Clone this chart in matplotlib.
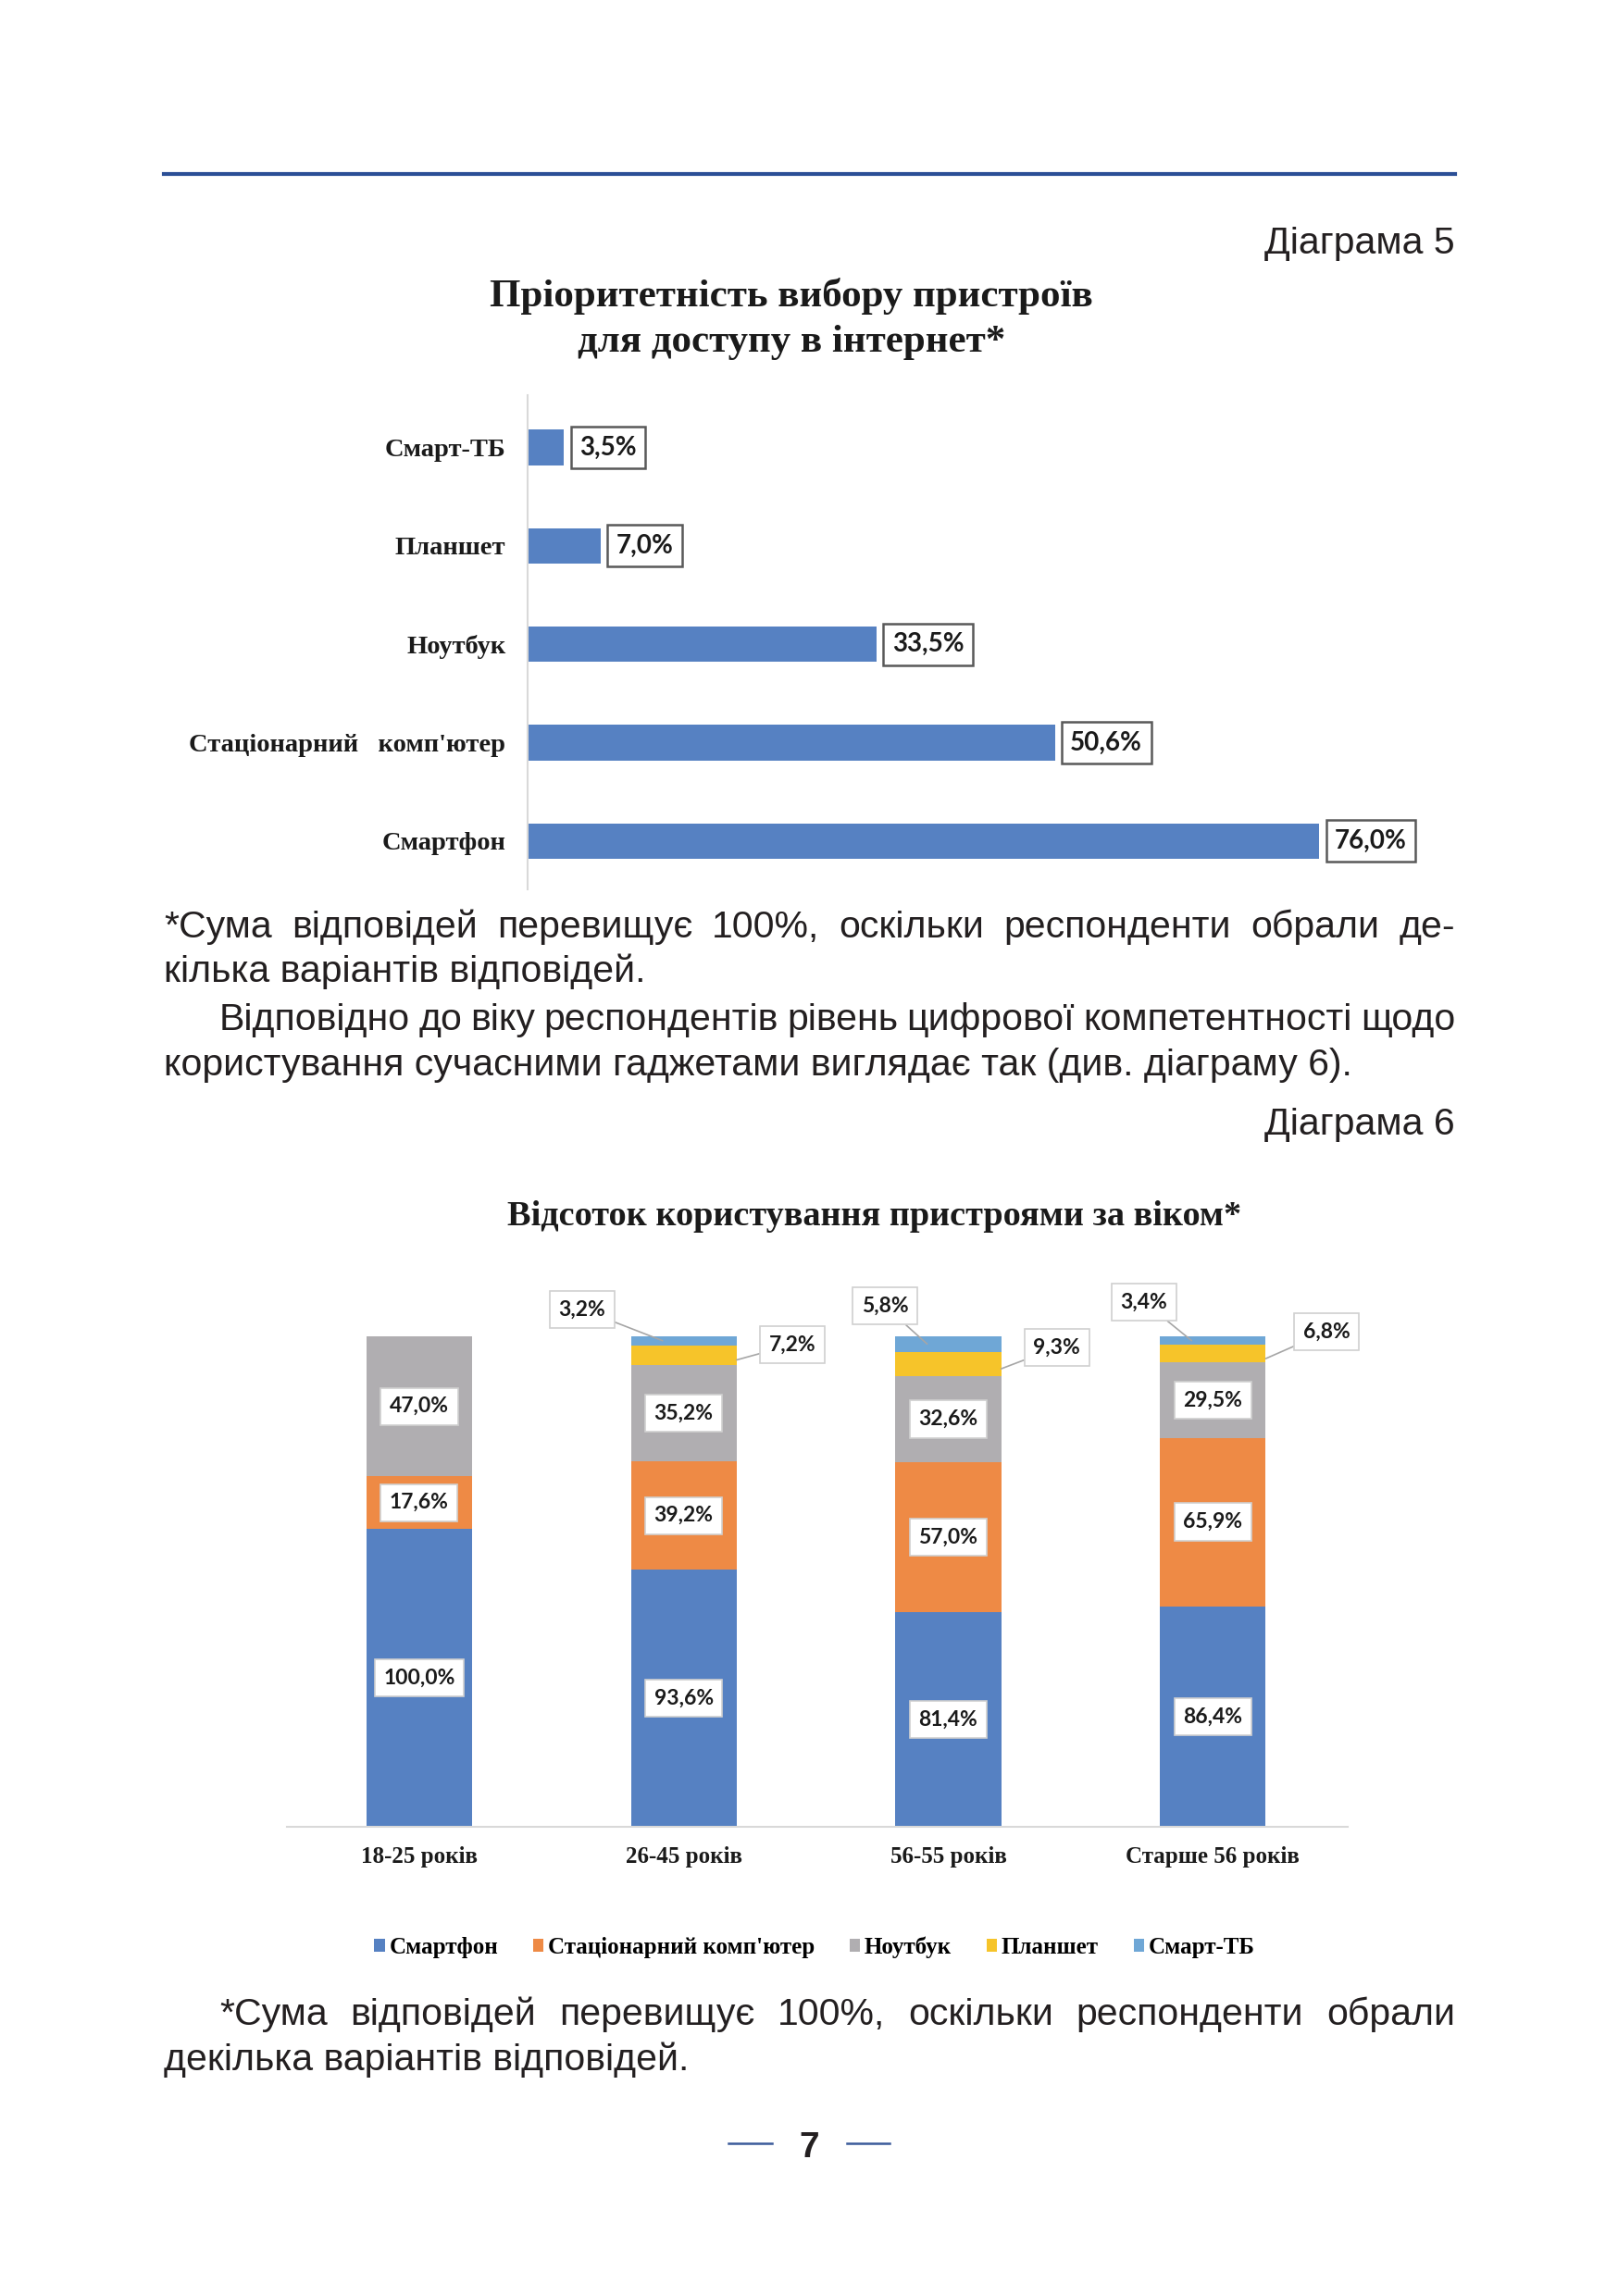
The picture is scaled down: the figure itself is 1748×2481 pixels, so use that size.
import matplotlib
matplotlib.use("Agg")
import matplotlib.pyplot as plt
from matplotlib.lines import Line2D

# diagram 5
devices = ["Смартфон", "Стаціонарний   комп'ютер", "Ноутбук", "Планшет", "Смарт-ТБ"]
device_share = [76.0, 50.6, 33.5, 7.0, 3.5]

# diagram 6
ages = ["18-25 років", "26-45 років", "56-55 років", "Старше 56 років"]
series_names = ["Смартфон", "Стаціонарний комп'ютер", "Ноутбук", "Планшет", "Смарт-ТБ"]
smartphone = [100.0, 93.6, 81.4, 86.4]
desktop = [17.6, 39.2, 57.0, 65.9]
laptop = [47.0, 35.2, 32.6, 29.5]
tablet = [0.0, 7.2, 9.3, 6.8]
smart_tv = [0.0, 3.2, 5.8, 3.4]

W, H = 1749, 2481
BLUE = "#5681c2"
colors = ["#5681c2", "#ee8a45", "#b0aeb1", "#f6c42a", "#6fa7d6"]
SERIF = ["Liberation Serif", "DejaVu Serif"]
SANS = ["Liberation Sans", "DejaVu Sans"]
LBL = ["Lato", "DejaVu Sans"]
TXT = "#231f20"
BODY = 29.5

fig = plt.figure(figsize=(W / 100, H / 100), dpi=100)
renderer = fig.canvas.get_renderer()


def fx(x):
    return x / W


def fy(y):
    return 1 - y / H


def px_axes(left, top, right, bottom):
    return fig.add_axes([fx(left), fy(bottom), (right - left) / W, (bottom - top) / H])


def fmt(v):
    return f"{v:.1f}%".replace(".", ",")


def text_line(s, x0, y, x1=None, **kw):
    kw.setdefault("family", SANS)
    kw.setdefault("fontsize", BODY)
    kw.setdefault("color", TXT)
    if x1 is None:
        fig.text(fx(x0), fy(y), s, ha="left", va="baseline", **kw)
        return
    words = s.split()
    arts = [fig.text(0, fy(y), w, ha="left", va="baseline", **kw) for w in words]
    widths = [a.get_window_extent(renderer).width for a in arts]
    gap = (x1 - x0 - sum(widths)) / (len(words) - 1)
    x = x0
    for a, w in zip(arts, widths):
        a.set_x(fx(x))
        x += w + gap


# page furniture
fig.add_artist(Line2D([fx(177), fx(1572)], [fy(188)] * 2, color="#2b4f96", lw=3))
fig.text(fx(1572), fy(274), "Діаграма 5", ha="right", va="baseline", family=SANS, fontsize=BODY, color=TXT)
fig.text(fx(855), fy(320), "Пріоритетність вибору пристроїв", ha="center", va="center",
         family=SERIF, fontweight="bold", fontsize=31, color="#1a1a1a")
fig.text(fx(855), fy(370), "для доступу в інтернет*", ha="center", va="center",
         family=SERIF, fontweight="bold", fontsize=31, color="#1a1a1a")

# ---- diagram 5: horizontal bars
ax1 = px_axes(570, 427, 1583, 961)
pos = list(range(len(devices)))
ax1.barh(pos, device_share, height=0.36, color=BLUE)
ax1.set_xlim(0, 90)
ax1.set_ylim(-0.49, 4.53)
for s in ["top", "right", "bottom"]:
    ax1.spines[s].set_visible(False)
ax1.spines["left"].set_color("#d9d9d9")
ax1.spines["left"].set_linewidth(1.5)
ax1.set_xticks([])
ax1.set_yticks(pos)
ax1.set_yticklabels(devices, family=SERIF, fontweight="bold", fontsize=20.5, color="#1a1a1a")
ax1.tick_params(axis="y", length=0, pad=17)
for i, v in enumerate(device_share):
    ax1.annotate(fmt(v), xy=(v, i), xytext=(12, 0), textcoords="offset points",
                 ha="left", va="center", family=LBL, fontweight="bold", fontsize=20, color="#1a1a1a",
                 bbox=dict(boxstyle="square,pad=0.34", fc="white", ec="#595959", lw=1.8))

# ---- text between diagrams
text_line("*Сума відповідей перевищує 100%, оскільки респонденти обрали де-", 177, 1013, 1572)
text_line("кілька варіантів відповідей.", 177, 1061)
text_line("Відповідно до віку респондентів рівень цифрової компетентності щодо", 237, 1113, 1572)
text_line("користування сучасними гаджетами виглядає так (див. діаграму 6).", 177, 1162)
fig.text(fx(1572), fy(1226), "Діаграма 6", ha="right", va="baseline", family=SANS, fontsize=BODY, color=TXT)

fig.text(fx(945), fy(1314), "Відсоток користування пристроями за віком*", ha="center", va="center",
         family=SERIF, fontweight="bold", fontsize=27.5, color="#1a1a1a")

# ---- diagram 6: 100% stacked columns
ax2 = px_axes(310, 1444, 1456, 1974)
xs = list(range(len(ages)))
series = [smartphone, desktop, laptop, tablet, smart_tv]
totals = [sum(s[i] for s in series) for i in xs]
bottoms = [0.0] * len(xs)
mids = []
for vals, name, c in zip(series, series_names, colors):
    frac = [v / t for v, t in zip(vals, totals)]
    ax2.bar(xs, frac, bottom=bottoms, width=0.4, color=c, label=name)
    mids.append([b + f / 2 for b, f in zip(bottoms, frac)])
    bottoms = [b + f for b, f in zip(bottoms, frac)]

lbl_kw = dict(family=LBL, fontweight="bold", fontsize=16.5, color="#1a1a1a")
box = dict(boxstyle="square,pad=0.42", fc="white", ec="#d0d0d0", lw=1.2)
for k in range(3):
    for i in xs:
        ax2.text(i, mids[k][i], fmt(series[k][i]), ha="center", va="center", bbox=box, **lbl_kw)

# leader-line labels for the thin segments
tablet_off = [None, (0.41, 0.983), (0.41, 0.977), (0.43, 1.009)]
tv_off = [None, (-0.385, 1.055), (-0.24, 1.062), (-0.26, 1.07)]
for i in xs:
    if tablet[i] > 0:
        dx, ty = tablet_off[i]
        ax2.annotate(fmt(tablet[i]), xy=(i + 0.2, mids[3][i] - 0.01), xytext=(i + dx, ty),
                     ha="center", va="center", bbox=box, annotation_clip=False,
                     arrowprops=dict(arrowstyle="-", color="#a6a6a6", lw=1.2, shrinkA=0, shrinkB=0), **lbl_kw)
    if smart_tv[i] > 0:
        dx, ty = tv_off[i]
        ax2.annotate(fmt(smart_tv[i]), xy=(i - 0.08, mids[4][i]), xytext=(i + dx, ty),
                     ha="center", va="center", bbox=box, annotation_clip=False,
                     arrowprops=dict(arrowstyle="-", color="#a6a6a6", lw=1.2, shrinkA=0, shrinkB=0), **lbl_kw)

ax2.set_xlim(-0.5, 3.51)
ax2.set_ylim(0, 1)
for s in ["top", "right", "left"]:
    ax2.spines[s].set_visible(False)
ax2.spines["bottom"].set_color("#d9d9d9")
ax2.spines["bottom"].set_linewidth(1.5)
ax2.set_yticks([])
ax2.set_xticks(xs)
ax2.set_xticklabels(ages, family=SERIF, fontweight="bold", fontsize=18, color="#1a1a1a")
ax2.tick_params(axis="x", length=0, pad=15)

handles, labels = ax2.get_legend_handles_labels()
fig.legend(handles, labels, loc="center", bbox_to_anchor=(fx(880), fy(2104)), ncol=5, frameon=False,
           handlelength=0.45, handleheight=0.45, handletextpad=0.2, columnspacing=1.5,
           prop=dict(family=SERIF, weight="bold", size=18))

# ---- footnote and page number
text_line("*Сума відповідей перевищує 100%, оскільки респонденти обрали", 237, 2188, 1572)
text_line("декілька варіантів відповідей.", 177, 2237)

fig.text(fx(874), fy(2321), "7", ha="center", va="center", family=SANS, fontweight="bold", fontsize=28, color=TXT)
fig.add_artist(Line2D([fx(787), fx(834)], [fy(2316)] * 2, color="#3b5a9a", lw=1.8))
fig.add_artist(Line2D([fx(915), fx(961)], [fy(2316)] * 2, color="#3b5a9a", lw=1.8))

fig.savefig("out.png", dpi=100)
